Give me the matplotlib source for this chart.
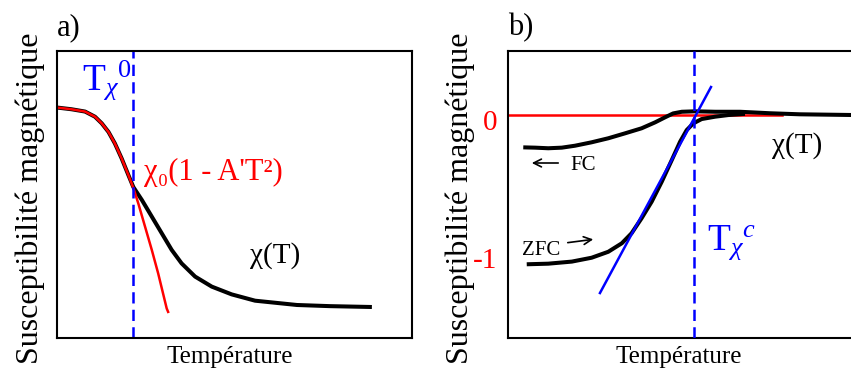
import numpy as np
from matplotlib import pyplot as plt
from matplotlib.patches import FancyArrowPatch

W, H = 851, 368

# panel a : schematic chi(T) and the low temperature fit, axes units 0..100
chi_a_x = [0.0, 4.1, 7.9, 10.7, 12.6, 14.5, 16.3, 18.2, 20.1, 21.5, 23.9, 26.7,
           29.5, 32.3, 35.1, 38.9, 43.6, 49.2, 55.8, 67.6, 76.9, 88.7]
chi_a_y = [80.3, 79.7, 78.9, 77.1, 74.8, 71.8, 67.8, 62.6, 56.8, 52.6, 48.1, 42.3,
           36.5, 30.7, 26.0, 21.4, 17.9, 15.2, 13.0, 11.5, 11.1, 10.8]
fit_a_x = [0.0, 4.1, 7.9, 10.7, 12.6, 14.5, 16.3, 18.2, 20.1, 21.5, 22.9, 24.8,
           26.7, 28.5, 30.9, 31.3]
fit_a_y = [80.3, 79.7, 78.9, 77.1, 74.8, 71.8, 67.8, 62.6, 56.8, 52.3, 46.9, 38.8,
           30.7, 22.5, 10.3, 9.1]
t0_a = 21.4

# panel b : FC / ZFC branches, y normalised so that 0 and -1 are the plateaus
fc_x = [4.4, 7.8, 11.6, 15.5, 19.3, 24.1, 28.9, 33.7, 38.5, 42.4, 45.2, 47.6,
        50.1, 53.9, 59.7, 66.9, 75.5, 84.1, 100.0]
fc_y = [-0.217, -0.219, -0.223, -0.219, -0.206, -0.183, -0.156, -0.123, -0.089,
        -0.049, -0.016, 0.011, 0.022, 0.025, 0.022, 0.022, 0.012, 0.005, 0.0]
zfc_x = [5.4, 11.6, 18.4, 24.1, 28.9, 32.8, 35.6, 38.5, 41.4, 44.3, 47.2, 49.6,
         51.5, 53.4, 55.8, 59.7, 63.5, 68.3]
zfc_y = [-1.002, -0.998, -0.984, -0.958, -0.918, -0.861, -0.794, -0.693, -0.582,
         -0.448, -0.302, -0.179, -0.101, -0.056, -0.027, -0.011, 0.0, 0.008]
tangent_x = [26.5, 58.5]
tangent_y = [-1.195, 0.188]
zero_x = [0.0, 79.0]
zero_y = [0.0, 0.0]
tc_b = 53.6
ticks_b = ["0", "-1"]

plt.rcParams["font.family"] = ["Liberation Serif", "DejaVu Serif"]
plt.rcParams["mathtext.fontset"] = "custom"
plt.rcParams["mathtext.rm"] = "Liberation Serif"
plt.rcParams["mathtext.it"] = "Liberation Serif:italic"

BLUE = "#0000ff"
RED = "#ff0000"
dash = (0, (4.5, 2.5))
curve = dict(color="k", lw=2.9, solid_capstyle="butt", solid_joinstyle="round")


def fig_xy(px, py):
    return px / W, 1 - py / H


def ftext(px, py, s, **kw):
    x, y = fig_xy(px, py)
    fig.text(x, y, s, **kw)


fig = plt.figure(figsize=(W / 100, H / 100), dpi=100)
ax_a = fig.add_axes([57 / W, 30 / H, 355 / W, 287 / H])
ax_b = fig.add_axes([508 / W, 30 / H, 347 / W, 287 / H])

for ax in (ax_a, ax_b):
    ax.set_xticks([])
    ax.set_yticks([])
    for sp in ax.spines.values():
        sp.set_linewidth(1.5)

# a)
ax_a.plot(chi_a_x, chi_a_y, **curve)
ax_a.plot(fit_a_x, fit_a_y, color=RED, lw=1.8, solid_joinstyle="round")
ax_a.axvline(t0_a, color=BLUE, lw=1.8, linestyle=dash)
ax_a.set_xlim(0, 100)
ax_a.set_ylim(0, 100)

# b)
ax_b.plot(zero_x, zero_y, color=RED, lw=1.8, zorder=1)
ax_b.plot(fc_x, fc_y, zorder=2, **curve)
ax_b.plot(zfc_x, zfc_y, zorder=2, **curve)
ax_b.plot(tangent_x, tangent_y, color=BLUE, lw=1.8, zorder=3)
ax_b.axvline(tc_b, color=BLUE, lw=1.8, linestyle=dash, zorder=3)
ax_b.set_xlim(0, 100)
ax_b.set_ylim(-1.497, 0.43)

# labels
ftext(57, 35.5, "a)", fontsize=22, va="baseline")
ftext(508, 35.5, "b)", fontsize=22, va="baseline")
for px in (30, 460):
    ftext(px, 33, "Susceptibilité magnétique", fontsize=23, rotation=90,
          ha="center", va="top")
for px in (230, 679):
    ftext(px, 363, "Température", fontsize=18, ha="center", va="baseline")

ftext(82, 90, r"${\mathrm{T}_{\chi}}^{0}$", fontsize=27, color=BLUE, va="baseline")
ftext(144, 180, "χ₀(1 - A'T²)", fontsize=22, color=RED, va="baseline")
ftext(250, 263, "χ(T)", fontsize=21, va="baseline")

ftext(772, 153, "χ(T)", fontsize=21, va="baseline")
ftext(707, 250, r"${\mathrm{T}_{\chi}}^{c}$", fontsize=27, color=BLUE, va="baseline")
ftext(497, 123, ticks_b[0], fontsize=21, color=RED, ha="right", va="center")
ftext(497, 261, ticks_b[1], fontsize=21, color=RED, ha="right", va="center")
ftext(570, 170, "FC", fontsize=15, va="baseline")
ftext(522, 255, "ZFC", fontsize=15, va="baseline")

arrow = dict(arrowstyle="->", lw=1.2, color="k", mutation_scale=14)
fig.add_artist(FancyArrowPatch(fig_xy(561, 163), fig_xy(529, 163),
                               transform=fig.transFigure, **arrow))
fig.add_artist(FancyArrowPatch(fig_xy(565, 243), fig_xy(596, 239),
                               transform=fig.transFigure, **arrow))

fig.savefig("out.png", dpi=100)
